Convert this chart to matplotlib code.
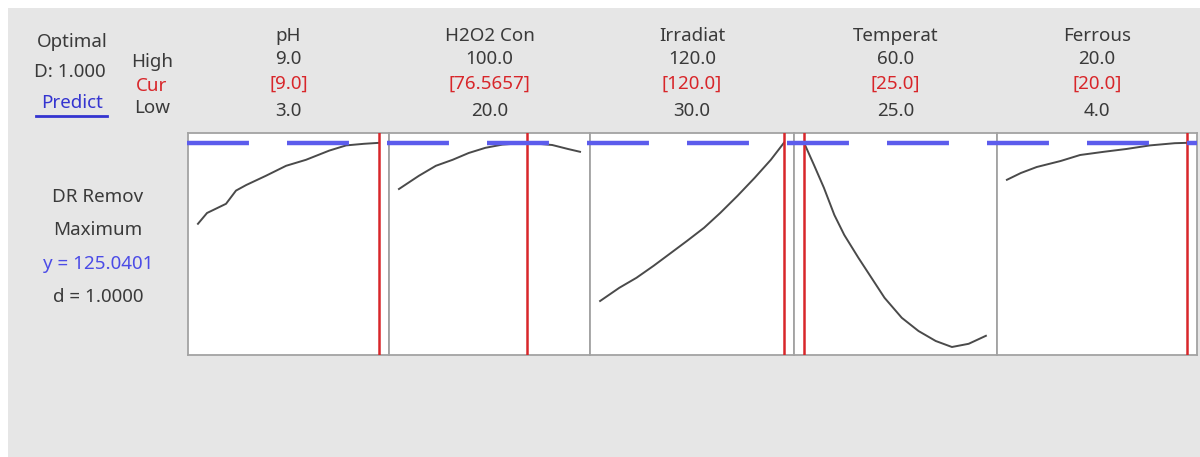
import numpy as np
import matplotlib
matplotlib.use('Agg')
import matplotlib.pyplot as plt
import matplotlib.transforms as mtransforms
from matplotlib.lines import Line2D
from matplotlib.patches import Rectangle

plt.rcParams['font.family'] = ['Noto Sans', 'DejaVu Sans']
plt.rcParams['lines.scale_dashes'] = False

# factor settings (High / Cur / Low)
factors = ['pH', 'H2O2 Con', 'Irradiat', 'Temperat', 'Ferrous']
high = [9.0, 100.0, 120.0, 60.0, 20.0]
low = [3.0, 20.0, 30.0, 25.0, 4.0]
cur = [9.0, 76.5657, 120.0, 25.0, 20.0]
cur_labels = ['[9.0]', '[76.5657]', '[120.0]', '[25.0]', '[20.0]']

y_opt = 125.0401

# predicted response traces
ph_x = [3.0, 3.3, 3.93, 4.26, 4.6, 5.25, 5.92, 6.58, 7.35, 7.91, 8.5, 9.0]
ph_y = [104.8, 107.5, 109.8, 113.1, 114.5, 116.8, 119.3, 120.8, 123.1, 124.4, 124.8, 125.04]

h2o2_x = [20.0, 28.8, 36.3, 43.7, 50.8, 58.2, 65.7, 76.57, 87.7, 94.7, 100.0]
h2o2_y = [113.5, 116.8, 119.3, 120.8, 122.5, 123.8, 124.6, 125.04, 124.5, 123.5, 122.8]

irr_x = [30.0, 39.4, 47.8, 56.2, 64.1, 72.5, 80.9, 88.8, 97.3, 105.7, 113.6, 120.0]
irr_y = [85.5, 88.8, 91.3, 94.3, 97.3, 100.5, 103.8, 107.5, 111.8, 116.3, 120.8, 125.04]

temp_x = [25.0, 26.9, 28.8, 30.8, 32.7, 35.4, 37.9, 40.4, 43.7, 46.9, 50.2, 53.3, 56.5, 59.8]
temp_y = [125.04, 119.5, 113.8, 107.0, 102.0, 96.3, 91.3, 86.3, 81.3, 78.0, 75.5, 74.0, 74.8, 76.8]

fe_x = [4.0, 5.24, 6.65, 8.77, 10.5, 12.6, 14.6, 16.7, 18.9, 20.0]
fe_y = [115.8, 117.5, 119.0, 120.5, 122.0, 122.8, 123.5, 124.4, 124.95, 125.04]

traces = [(ph_x, ph_y), (h2o2_x, h2o2_y), (irr_x, irr_y), (temp_x, temp_y), (fe_x, fe_y)]

W, H = 1200, 457
fig = plt.figure(figsize=(W / 100, H / 100), dpi=100)
fig.patch.set_facecolor('white')
fig.add_artist(Rectangle((8 / W, 0), 1 - 8 / W, 1 - 8 / H, transform=fig.transFigure,
                         facecolor='#e6e6e6', edgecolor='none', zorder=-10))

edges = [188, 389, 590, 794, 997, 1197]
top, bottom = 133, 355
txt = '#3a3a3a'
red = '#d8262a'
blue = '#4b4be6'
fs = 13.5

axes = []
for i, name in enumerate(factors):
    l, r = edges[i], edges[i + 1]
    ax = fig.add_axes([l / W, 1 - bottom / H, (r - l) / W, (bottom - top) / H])
    rng = high[i] - low[i]
    ax.set_xlim(low[i] - 0.055 * rng, high[i] + 0.055 * rng)
    ax.set_ylim(72.0, 127.5)
    ax.set_xticks([])
    ax.set_yticks([])
    for s in ax.spines.values():
        s.set_color('#a3a3a3')
        s.set_linewidth(1.3)
    x, y = traces[i]
    ax.plot(x, y, color='#4a4a4a', lw=1.4, zorder=4)
    ax.axvline(cur[i], color=red, lw=1.8, zorder=5)
    axes.append(ax)

    xc = (l + r) / 2 / W
    fig.text(xc, 1 - 36 / H, name, ha='center', va='center', fontsize=fs, color=txt)
    fig.text(xc, 1 - 59 / H, f'{high[i]:.1f}', ha='center', va='center', fontsize=fs, color=txt)
    fig.text(xc, 1 - 84 / H, cur_labels[i], ha='center', va='center', fontsize=fs, color=red)
    fig.text(xc, 1 - 111 / H, f'{low[i]:.1f}', ha='center', va='center', fontsize=fs, color=txt)

# optimum line running across all panels
trans = mtransforms.blended_transform_factory(fig.transFigure, axes[0].transData)
opt = Line2D([187 / W, 1197 / W], [y_opt, y_opt], transform=trans, color='#5c5cec',
             lw=3.2, dashes=(44.6, 27.4), solid_capstyle='butt', dash_capstyle='butt', zorder=3)
fig.add_artist(opt)

# left-hand labels
fig.text(72 / W, 1 - 42 / H, 'Optimal', ha='center', va='center', fontsize=fs, color=txt)
fig.text(70 / W, 1 - 72 / H, 'D: 1.000', ha='center', va='center', fontsize=fs, color=txt)
fig.text(72 / W, 1 - 103 / H, 'Predict', ha='center', va='center', fontsize=fs, color='#3434d0')
fig.add_artist(Line2D([36 / W, 107 / W], [1 - 116 / H, 1 - 116 / H], transform=fig.transFigure,
                      color='#3434d0', lw=2))
fig.text(152 / W, 1 - 62 / H, 'High', ha='center', va='center', fontsize=fs, color=txt)
fig.text(152 / W, 1 - 86 / H, 'Cur', ha='center', va='center', fontsize=fs, color=red)
fig.text(152 / W, 1 - 108 / H, 'Low', ha='center', va='center', fontsize=fs, color=txt)

fig.text(98 / W, 1 - 197 / H, 'DR Remov', ha='center', va='center', fontsize=fs, color=txt)
fig.text(98 / W, 1 - 230 / H, 'Maximum', ha='center', va='center', fontsize=fs, color=txt)
fig.text(98 / W, 1 - 264 / H, f'y = {y_opt:.4f}', ha='center', va='center', fontsize=fs, color=blue)
fig.text(98 / W, 1 - 297 / H, 'd = 1.0000', ha='center', va='center', fontsize=fs, color=txt)

fig.savefig('out.png', dpi=100)
